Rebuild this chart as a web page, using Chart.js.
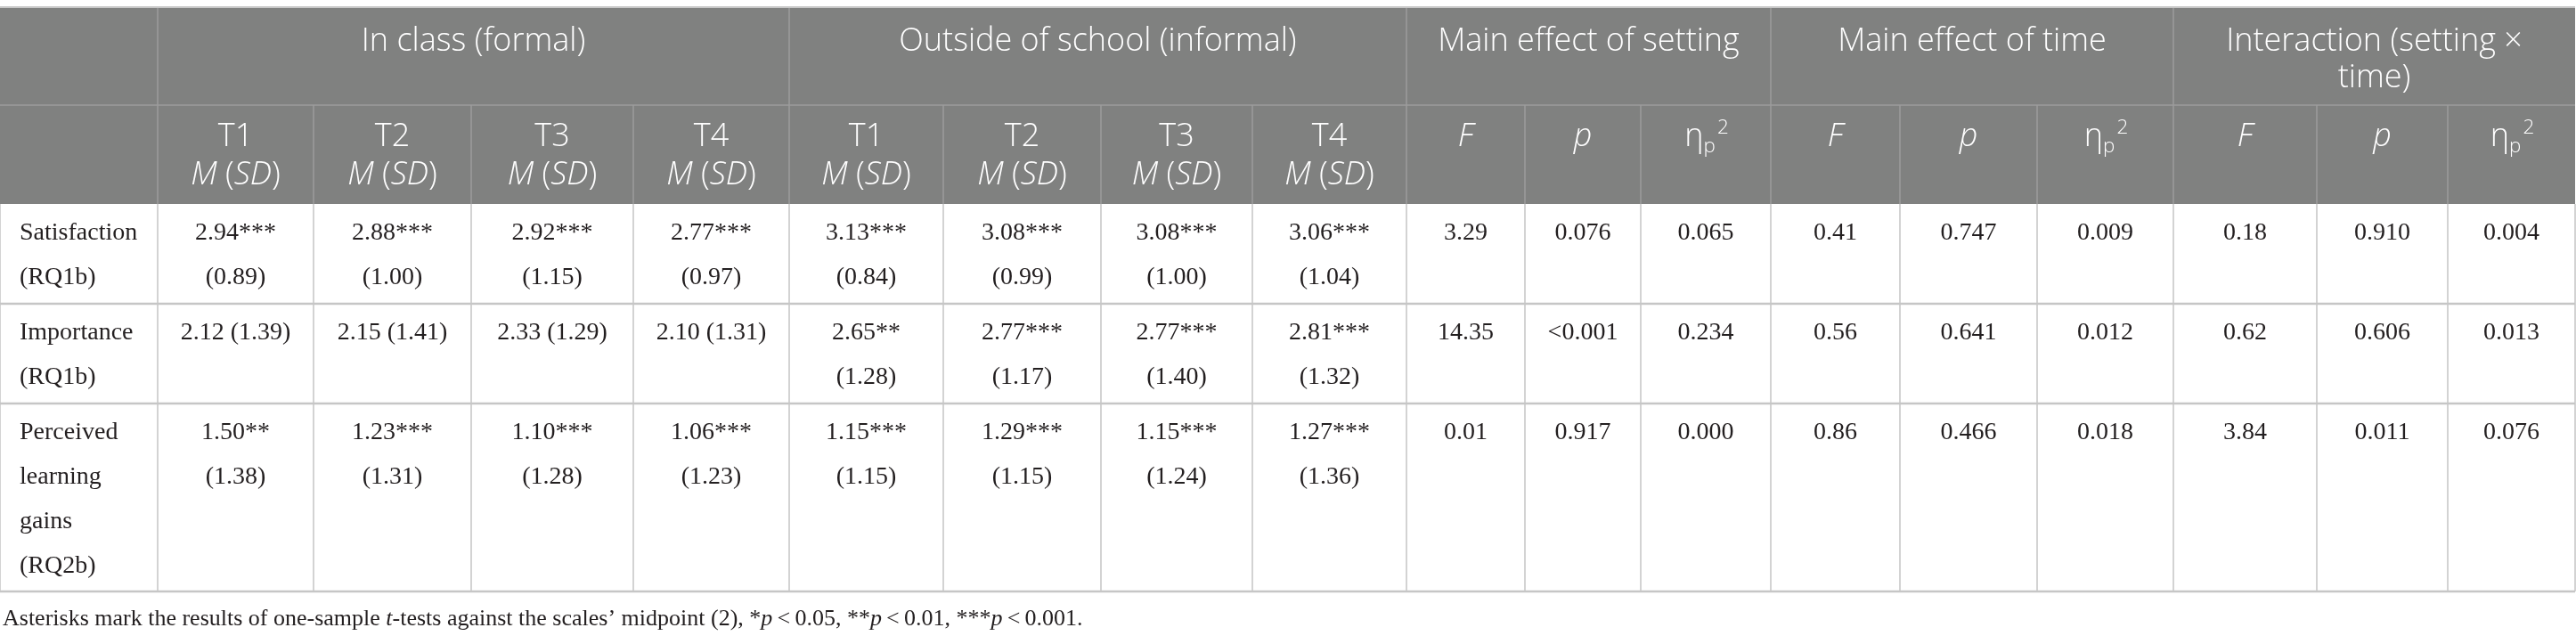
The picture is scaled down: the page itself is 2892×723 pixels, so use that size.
<!DOCTYPE html>
<html><head><meta charset="utf-8">
<script src="https://cdn.jsdelivr.net/npm/chart.js@4.4.1/dist/chart.umd.min.js"></script>
<style>html,body{margin:0;padding:0;background:#fff}#wrap{width:2892px;height:723px;position:relative}</style>
</head><body><div id="wrap"><canvas id="c"></canvas></div>
<script>
// ================= DATA =================
const measures = ["Satisfaction (RQ1b)", "Importance (RQ1b)", "Perceived learning gains (RQ2b)"];
const settings = ["In class (formal)", "Outside of school (informal)"];
const times = ["T1", "T2", "T3", "T4"];
const effects = ["Main effect of setting", "Main effect of time", "Interaction (setting \u00d7 time)"];

const inClassM   = [[2.94, 2.88, 2.92, 2.77], [2.12, 2.15, 2.33, 2.10], [1.50, 1.23, 1.10, 1.06]];
const inClassSD  = [[0.89, 1.00, 1.15, 0.97], [1.39, 1.41, 1.29, 1.31], [1.38, 1.31, 1.28, 1.23]];
const inClassSig = [["***", "***", "***", "***"], ["", "", "", ""], ["**", "***", "***", "***"]];

const outsideM   = [[3.13, 3.08, 3.08, 3.06], [2.65, 2.77, 2.77, 2.81], [1.15, 1.29, 1.15, 1.27]];
const outsideSD  = [[0.84, 0.99, 1.00, 1.04], [1.28, 1.17, 1.40, 1.32], [1.15, 1.15, 1.24, 1.36]];
const outsideSig = [["***", "***", "***", "***"], ["**", "***", "***", "***"], ["***", "***", "***", "***"]];

const settingF   = [3.29, 14.35, 0.01];
const settingP   = ["0.076", "<0.001", "0.917"];
const settingEta = [0.065, 0.234, 0.000];
const timeF      = [0.41, 0.56, 0.86];
const timeP      = ["0.747", "0.641", "0.466"];
const timeEta    = [0.009, 0.012, 0.018];
const interF     = [0.18, 0.62, 3.84];
const interP     = ["0.910", "0.606", "0.011"];
const interEta   = [0.004, 0.013, 0.076];

// ================= LAYOUT (table geometry, not data) =================
const canvasW = 2892, canvasH = 723;
const colWidths = [177, 175, 177, 182, 175, 173, 177, 170, 173, 133, 130, 146, 145, 154, 153, 161, 147, 143];
const tableTop = 8;
const rowHeights = [110, 111, 112, 112, 211];
const footY = 695;

const colEdges = [0]; colWidths.forEach(w => colEdges.push(colEdges[colEdges.length - 1] + w));
const rowEdges = [tableTop]; rowHeights.forEach(h => rowEdges.push(rowEdges[rowEdges.length - 1] + h));

const STYLE = {
  head1: { family: '"Open Sans", "Noto Sans", sans-serif', weight: 300, size: 36, color: '#ffffff', first: 39, step: 41, pad: 20 },
  head2: { family: '"Open Sans", "Noto Sans", sans-serif', weight: 300, size: 36, color: '#ffffff', first: 36, step: 43, pad: 20 },
  body:  { family: '"Liberation Serif", "Times New Roman", serif', weight: 400, size: 28, color: '#231f20', first: 33, step: 50, pad: 20, padL: 22 },
  foot:  { family: '"Liberation Serif", "Times New Roman", serif', weight: 400, size: 26, color: '#231f20', first: 0, step: 30, pad: 0, padL: 3 }
};
const COLORS = { headBg: '#808180', headLine: '#9c9d9c', topLine: '#c8c8c8', bodyV: '#c4c4c4', bodyH: '#c6c6c6' };

// ================= CELL CONTENT =================
const cells = [];
function addCell(c0, c1, r, content, kind, align) {
  const st = STYLE[kind];
  const x0 = colEdges[c0], x1 = colEdges[c1];
  cells.push({ x: align === 'left' ? x0 + st.padL : (x0 + x1) / 2, y: rowEdges[r] + st.first, w: x1 - x0, kind, align: align || 'center', content });
}
const msdHead = [{ t: 'M', it: 1 }, { t: ' (' }, { t: 'SD', it: 1 }, { t: ')' }];
const statHeads = [
  [[{ t: 'F', it: 1 }]],
  [[{ t: 'p', it: 1 }]],
  [[{ t: '\u03b7' }, { t: 'p', sub: 1 }, { t: '2', sup: 1 }]]
];
// header row 1
addCell(0, 1, 0, '', 'head1');
settings.forEach((s, i) => addCell(1 + 4 * i, 5 + 4 * i, 0, s, 'head1'));
effects.forEach((e, i) => addCell(9 + 3 * i, 12 + 3 * i, 0, e, 'head1'));
// header row 2
settings.forEach((s, i) => times.forEach((t, j) => addCell(1 + 4 * i + j, 2 + 4 * i + j, 1, [[{ t: t }], msdHead], 'head2')));
effects.forEach((e, i) => statHeads.forEach((h, k) => addCell(9 + 3 * i + k, 10 + 3 * i + k, 1, h, 'head2')));
// body
const fmtMSD = (m, sig, sd) => m.toFixed(2) + sig + ' (' + sd.toFixed(2) + ')';
measures.forEach((name, r) => {
  addCell(0, 1, 2 + r, name, 'body', 'left');
  times.forEach((t, j) => addCell(1 + j, 2 + j, 2 + r, fmtMSD(inClassM[r][j], inClassSig[r][j], inClassSD[r][j]), 'body'));
  times.forEach((t, j) => addCell(5 + j, 6 + j, 2 + r, fmtMSD(outsideM[r][j], outsideSig[r][j], outsideSD[r][j]), 'body'));
  const stats = [
    [settingF[r].toFixed(2), settingP[r], settingEta[r].toFixed(3)],
    [timeF[r].toFixed(2), timeP[r], timeEta[r].toFixed(3)],
    [interF[r].toFixed(2), interP[r], interEta[r].toFixed(3)]
  ];
  stats.forEach((grp, i) => grp.forEach((v, k) => addCell(9 + 3 * i + k, 10 + 3 * i + k, 2 + r, v, 'body')));
});
// footnote
const TS = '\u2009';
cells.push({ x: STYLE.foot.padL, y: footY, w: 99999, kind: 'foot', align: 'left', content: [[
  { t: 'Asterisks mark the results of one-sample ' }, { t: 't', it: 1 },
  { t: '-tests against the scales\u2019 midpoint (2), *' }, { t: 'p', it: 1 },
  { t: TS + '<' + TS + '0.05, **' }, { t: 'p', it: 1 },
  { t: TS + '<' + TS + '0.01, ***' }, { t: 'p', it: 1 },
  { t: TS + '<' + TS + '0.001.' }
]] });

// ================= DRAWING =================
function fontOf(st, seg) {
  const size = (seg && (seg.sub || seg.sup)) ? st.size * 0.62 : st.size;
  return (seg && seg.it ? 'italic ' : '') + st.weight + ' ' + size + 'px ' + st.family;
}
function wrapText(ctx, st, text, maxW) {
  ctx.font = fontOf(st);
  const words = text.split(' ');
  const lines = []; let cur = '';
  words.forEach(w => {
    const test = cur ? cur + ' ' + w : w;
    if (cur && ctx.measureText(test).width > maxW) { lines.push(cur); cur = w; } else cur = test;
  });
  if (cur) lines.push(cur);
  return lines.map(l => [{ t: l }]);
}
function drawLine(ctx, st, segs, x, y, align) {
  const widths = segs.map(s => { ctx.font = fontOf(st, s); return ctx.measureText(s.t).width; });
  const total = widths.reduce((a, b) => a + b, 0);
  let cx = align === 'left' ? x : x - total / 2;
  segs.forEach((s, i) => {
    ctx.font = fontOf(st, s);
    let dy = 0;
    if (s.sub) dy = st.size * 0.3;
    if (s.sup) dy = -st.size * 0.3;
    ctx.fillText(s.t, cx, y + dy);
    cx += widths[i] + (s.sub ? 2 : 0);
  });
}

const tablePlugin = {
  id: 'tablePlugin',
  beforeDatasetsDraw(chart) {
    const ctx = chart.ctx, xs = chart.scales.x, ys = chart.scales.y;
    const X = v => xs.getPixelForValue(v), Y = v => ys.getPixelForValue(v);
    const right = colEdges[colEdges.length - 1];
    ctx.save();
    // header background
    ctx.fillStyle = COLORS.headBg;
    ctx.fillRect(X(0), Y(rowEdges[0]), X(right) - X(0), Y(rowEdges[2]) - Y(rowEdges[0]));
    const line = (x0, y0, x1, y1, c, w) => { ctx.strokeStyle = c; ctx.lineWidth = w; ctx.beginPath(); ctx.moveTo(X(x0), Y(y0)); ctx.lineTo(X(x1), Y(y1)); ctx.stroke(); };
    // header lines
    line(0, rowEdges[1], right, rowEdges[1], COLORS.headLine, 1.5);
    const spanEdges = [1, 5, 9, 12, 15];
    colEdges.forEach((e, i) => {
      if (i === 0 || i === colEdges.length - 1) return;
      if (spanEdges.includes(i)) line(e, rowEdges[0], e, rowEdges[2], COLORS.headLine, 1.5);
      else line(e, rowEdges[1], e, rowEdges[2], COLORS.headLine, 1.5);
    });
    // top line
    line(0, rowEdges[0], right, rowEdges[0], COLORS.topLine, 2);
    // body vertical lines
    colEdges.forEach(e => line(e, rowEdges[2], e, rowEdges[5], COLORS.bodyV, 1.5));
    // body horizontal lines
    [3, 4, 5].forEach(r => line(0, rowEdges[r], right, rowEdges[r], COLORS.bodyH, 2.5));
    ctx.restore();
  },
  afterDatasetsDraw(chart) {
    const ctx = chart.ctx, xs = chart.scales.x, ys = chart.scales.y;
    const meta = chart.getDatasetMeta(0);
    const data = chart.data.datasets[0].data;
    ctx.save();
    ctx.textBaseline = 'middle';
    ctx.textAlign = 'left';
    meta.data.forEach((el, i) => {
      const d = data[i];
      if (!d.content) return;
      const st = STYLE[d.kind];
      ctx.fillStyle = st.color;
      const wPx = xs.getPixelForValue(d.w) - xs.getPixelForValue(0);
      const lines = typeof d.content === 'string' ? wrapText(ctx, st, d.content, wPx - 2 * st.pad) : d.content;
      const stepPx = ys.getPixelForValue(st.step) - ys.getPixelForValue(0);
      lines.forEach((segs, li) => drawLine(ctx, st, segs, el.x, el.y + li * stepPx, d.align));
    });
    ctx.restore();
  }
};

new Chart(document.getElementById('c'), {
  type: 'scatter',
  data: { datasets: [{ data: cells, pointRadius: 0, pointHoverRadius: 0, pointBorderWidth: 0 }] },
  options: {
    responsive: true, maintainAspectRatio: false, animation: false, devicePixelRatio: 1,
    events: [], layout: { padding: 0 },
    plugins: { legend: { display: false }, tooltip: { enabled: false } },
    scales: {
      x: { type: 'linear', min: 0, max: canvasW, display: false },
      y: { type: 'linear', min: 0, max: canvasH, reverse: true, display: false }
    }
  },
  plugins: [tablePlugin]
});
</script></body></html>
